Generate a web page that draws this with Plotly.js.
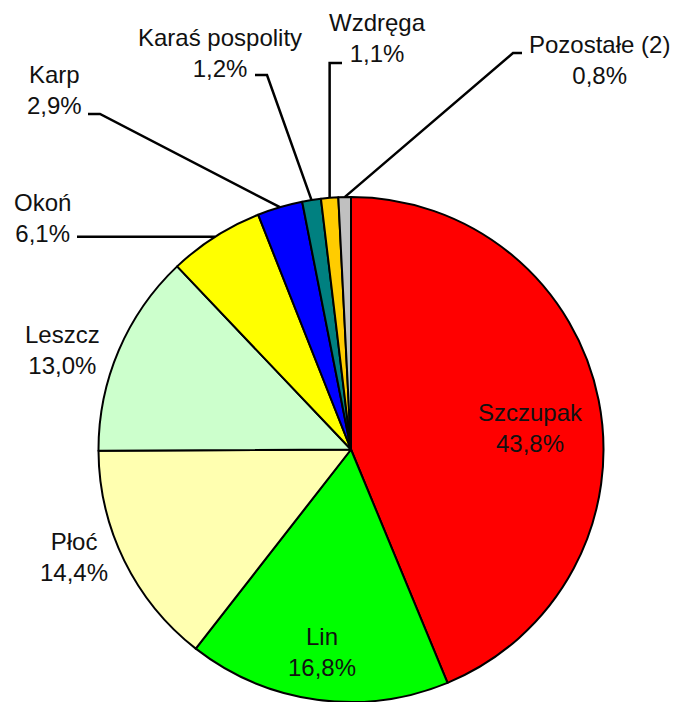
<!DOCTYPE html>
<html>
<head>
<meta charset="utf-8">
<script src="https://cdn.plot.ly/plotly-3.0.1.min.js"></script>
<style>html,body{margin:0;padding:0;background:#fff;}#chart{width:681px;height:702px;}</style>
</head>
<body>
<div id="chart"></div>
<script>
var categories = ["Szczupak", "Lin", "Płoć", "Leszcz", "Okoń", "Karp", "Karaś pospolity", "Wzdręga", "Pozostałe (2)"];
var values = [43.8, 16.8, 14.4, 13.0, 6.1, 2.9, 1.2, 1.1, 0.8];
var colors = ["#FF0000", "#00FF00", "#FFFFB0", "#CCFFCC", "#FFFF00", "#0000FF", "#008080", "#FFCC00", "#C0C0C0"];

// label placement (pixels) and leader-line corner points (pixels, null = none)
var labelPos = [[530, 428], [322, 652], [74, 557], [62, 350], [42, 218], [54, 90], [220, 53], [377, 38], [599, 60]];
var leaders = [null, null, null, null,
  [["edgeY", 77]],
  [[100, 114], [88, 114]],
  [[267, 75], [255, 75]],
  [["vert", 63], [342, 63]],
  [[513, 53], [522, 53]]];

var W = 681, H = 702;
var cx = 351, R = 252.5, cy = H - R;
var dom = {x: [(cx - R) / W, (cx + R) / W], y: [0, 2 * R / H]};

function px(x) { return x / W; }
function py(y) { return 1 - y / H; }

var total = values.reduce(function (a, b) { return a + b; }, 0);
var cum = 0;
var annotations = [], shapes = [];
for (var i = 0; i < values.length; i++) {
  var mid = (cum + values[i] / 2) / total * 2 * Math.PI;
  cum += values[i];
  var ex = cx + R * Math.sin(mid), ey = cy - R * Math.cos(mid);
  annotations.push({
    xref: "paper", yref: "paper", x: px(labelPos[i][0]), y: py(labelPos[i][1]),
    xanchor: "center", yanchor: "middle", showarrow: false, align: "center",
    text: categories[i] + "<br>" + values[i].toFixed(1).replace(".", ",") + "%",
    font: {family: "Liberation Sans, Arial, sans-serif", size: 24, color: "#111"}
  });
  if (leaders[i]) {
    var d = "M " + px(ex) + " " + py(ey);
    leaders[i].forEach(function (p) {
      var x, y;
      if (p[0] === "edgeY") { x = p[1]; y = ey; }
      else if (p[0] === "vert") { x = ex; y = p[1]; }
      else { x = p[0]; y = p[1]; }
      d += " L " + px(x) + " " + py(y);
    });
    shapes.push({type: "path", xref: "paper", yref: "paper", path: d,
      line: {color: "#000", width: 2.5}});
  }
}

var trace = {
  type: "pie", labels: categories, values: values, sort: false,
  direction: "clockwise", rotation: 0, domain: dom,
  marker: {colors: colors, line: {color: "#000", width: 2}},
  textinfo: "none", hoverinfo: "label+percent", showlegend: false
};

var layout = {
  width: W, height: H, margin: {l: 0, r: 0, t: 0, b: 0},
  paper_bgcolor: "#fff", plot_bgcolor: "#fff", showlegend: false,
  annotations: annotations, shapes: shapes
};

Plotly.newPlot("chart", [trace], layout, {displayModeBar: false, staticPlot: true});
</script>
</body>
</html>
